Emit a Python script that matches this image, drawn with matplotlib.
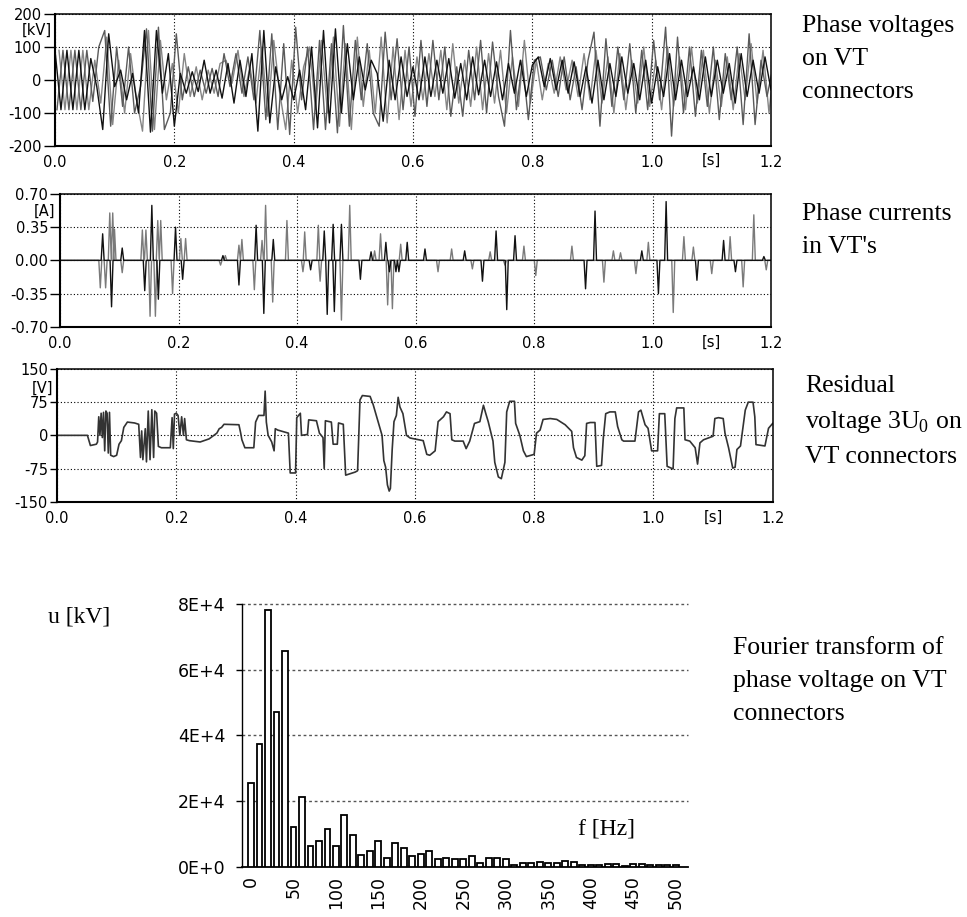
import numpy as np
import matplotlib
matplotlib.use("Agg")
import matplotlib.pyplot as plt

plt.rcParams['font.family'] = 'DejaVu Sans'
plt.rcParams['axes.unicode_minus'] = False
plt.rcParams['mathtext.fontset'] = 'custom'
plt.rcParams['mathtext.rm'] = 'Liberation Serif'

W, H = 967, 917

# ---------------- data ----------------
# phase voltages [kV]: successive extrema, one every 10 ms per phase
volt_step = 0.01
volt_offsets = [0.0, 0.00333, 0.00667]
volt_a = [90, -90, 90, -90, 90, -90, 65, -20, -150, 140,
          -20, 30, -60, 20, -100, 150, -158, 150, -40, 80,
          -140, 20, -40, 25, -35, 60, -40, 30, -55, 50,
          -70, 60, -50, 80, -155, 150, -130, 40, -60, 10,
          -60, 30, -90, 100, -145, 150, -130, 155, -100, 110,
          -60, 70, -30, 60, 20, -125, 60, -60, 70, -50,
          40, -60, 70, -50, 60, -40, 65, -55, 50, -60,
          70, -45, 60, -50, 55, -60, 50, -40, 60, -50,
          45, 70, -20, 65, -30, 60, -40, 55, -50, 40,
          -70, 60, -60, 50, -50, 70, -40, 50, -60, 60,
          -70, 40, -50, 80, -60, 60, -50, 40, -60, 70,
          -50, 60, -40, 50, -70, 80, -50, 60, -40, 70, -30]
volt_b = [-90, 90, -90, 90, -90, 90, -65, 100, 150, -140,
          100, -80, 100, -100, -20, 155, -155, 160, -150, -100,
          140, -60, 40, -50, 30, -40, 35, -50, 80, -20,
          80, -40, 70, -60, 150, -120, 140, -150, 110, -165,
          160, -60, 100, -150, 120, -150, 110, -160, 165, -140,
          120, -60, 110, -100, -140, 145, -60, 125, -90, 100,
          -110, 120, -80, 120, -60, 100, -110, 40, -110, 90,
          -60, 120, -100, 115, -50, -140, 150, -90, 60, -120,
          60, 70, -30, 60, -50, 70, -60, 40, -90, 60,
          145, -140, 125, -80, 100, -60, 110, -100, 90, -90,
          120, -60, 160, -170, 130, -100, 100, -110, 90, -80,
          100, -120, 80, -60, 100, -135, 140, -135, 60, -50, 40]
volt_c = [90, -90, 90, -90, 90, -90, 60, -70, 130, -135,
          60, -100, 80, -60, -155, 150, -150, 120, -60, 50,
          -100, 80, -50, 40, -60, 30, -40, 50, 60, -10,
          90, -50, 40, -70, 100, -110, 120, -40, -150, 60,
          -100, 40, 100, -90, 120, -100, 130, -140, 110, -150,
          130, -80, 90, -100, 130, -130, 100, -120, 90, -80,
          70, -60, 80, -50, 90, -90, 110, -70, 60, -80,
          100, -90, 80, -70, 90, -100, 70, -80, 120, -70,
          60, -60, 50, -40, 70, -30, 60, -50, 80, -60,
          90, -70, 70, -100, 80, -90, 60, -70, 100, -80,
          60, -90, 100, -80, 70, -90, 100, -70, 90, -100,
          60, -80, 70, -90, 80, -60, 110, -70, 90, -100, 80]

# phase currents [A]: current pulses (time, peak), zero in between
cur_black_t = [0.072, 0.087, 0.105, 0.143, 0.155, 0.166, 0.195, 0.207, 0.275, 0.302,
               0.331, 0.344, 0.360, 0.423, 0.446, 0.451, 0.461, 0.463, 0.475, 0.507,
               0.525, 0.550, 0.556, 0.567, 0.572, 0.586, 0.616, 0.683, 0.713, 0.736,
               0.754, 0.768, 0.887, 0.903, 0.982, 1.010, 1.023, 1.075, 1.120, 1.140, 1.188]
cur_black_v = [0.28, -0.49, 0.13, -0.32, 0.58, -0.41, 0.35, -0.20, 0.05, -0.26,
               0.37, -0.56, 0.22, -0.10, 0.31, -0.57, 0.38, -0.54, 0.38, -0.20,
               0.09, 0.19, -0.12, -0.12, -0.12, 0.19, 0.12, 0.10, -0.22, 0.31,
               -0.52, 0.26, -0.30, 0.52, 0.10, -0.35, 0.62, -0.21, 0.21, -0.12, 0.04]
cur_gray_t = [0.068, 0.077, 0.084, 0.089, 0.092, 0.105, 0.139, 0.145, 0.152, 0.161,
              0.165, 0.170, 0.190, 0.204, 0.212, 0.271, 0.279, 0.302, 0.307, 0.328,
              0.341, 0.347, 0.359, 0.383, 0.410, 0.413, 0.436, 0.439, 0.475, 0.489,
              0.531, 0.541, 0.553, 0.561, 0.575, 0.638, 0.661, 0.696, 0.726, 0.751,
              0.783, 0.803, 0.864, 0.918, 0.934, 0.946, 0.972, 0.993, 1.035, 1.053,
              1.069, 1.100, 1.131, 1.153, 1.171, 1.192]
cur_gray_v = [-0.29, -0.29, 0.50, 0.50, 0.33, -0.13, 0.32, 0.32, -0.59, -0.59,
              0.42, 0.42, -0.35, 0.23, 0.23, -0.05, 0.05, 0.16, 0.22, -0.31,
              0.21, 0.58, -0.44, 0.42, -0.12, 0.30, 0.37, -0.22, -0.63, 0.58,
              0.10, 0.28, -0.47, -0.51, 0.17, -0.12, 0.12, -0.09, 0.09, -0.05,
              0.15, -0.16, 0.15, -0.23, 0.10, 0.08, -0.14, 0.19, -0.55, 0.25,
              0.14, -0.14, 0.25, -0.28, 0.48, -0.10]

# residual voltage 3U0 [V]: breakpoints (time, value)
res_pts = [(0.000, 0), (0.051, 0), (0.056, -23), (0.066, -20), (0.068, -15), (0.070, 42),
           (0.072, 0), (0.074, 50), (0.076, -5), (0.078, 52), (0.080, -35), (0.082, 55),
           (0.084, 50), (0.086, -40), (0.088, 52), (0.090, -45), (0.095, -48), (0.100, -45),
           (0.104, -20), (0.108, -12), (0.112, 18), (0.118, 30), (0.130, 28), (0.137, 25),
           (0.140, -50), (0.142, 10), (0.144, -55), (0.148, 15), (0.150, -60), (0.153, 55),
           (0.156, -55), (0.159, 58), (0.162, -50), (0.164, 55), (0.167, 50), (0.170, -25),
           (0.175, -28), (0.190, -28), (0.193, 40), (0.195, -30), (0.197, 48), (0.200, 50),
           (0.203, 45), (0.206, 0), (0.209, 42), (0.212, 0), (0.214, 38), (0.217, -10),
           (0.222, -12), (0.240, -15), (0.255, -8), (0.268, 5), (0.272, 15), (0.276, 18),
           (0.280, 25), (0.305, 24), (0.308, 5), (0.310, -10), (0.315, -28), (0.330, -28),
           (0.333, 30), (0.338, 45), (0.347, 45), (0.349, 100), (0.351, 30), (0.354, 0),
           (0.360, -15), (0.364, -35), (0.366, 15), (0.370, 12), (0.388, 5), (0.391, -85),
           (0.400, -85), (0.402, 40), (0.408, 50), (0.410, 0), (0.420, 2), (0.422, 35),
           (0.435, 33), (0.440, 5), (0.446, -5), (0.448, -75), (0.450, 33), (0.460, 30),
           (0.463, -20), (0.470, -20), (0.472, 28), (0.480, 25), (0.484, -90), (0.500, -83),
           (0.504, -80), (0.508, 80), (0.512, 90), (0.525, 88), (0.530, 70), (0.545, 0),
           (0.548, -57), (0.551, -72), (0.554, -112), (0.557, -126), (0.559, -120), (0.562, -32),
           (0.565, 31), (0.569, 45), (0.572, 86), (0.575, 64), (0.580, 49), (0.586, 0),
           (0.592, -6), (0.614, -12), (0.620, -43), (0.625, -45), (0.634, -35), (0.639, 31),
           (0.648, 42), (0.653, 53), (0.659, 49), (0.662, -10), (0.667, -13), (0.681, -13),
           (0.686, -30), (0.692, -13), (0.700, 27), (0.709, 31), (0.715, 68), (0.719, 49),
           (0.723, 31), (0.731, -13), (0.734, -61), (0.740, -94), (0.745, -98), (0.751, -61),
           (0.754, 53), (0.759, 77), (0.767, 77), (0.769, 27), (0.776, 0), (0.782, -35),
           (0.787, -48), (0.800, -43), (0.804, 5), (0.810, 12), (0.815, 36), (0.827, 38),
           (0.838, 36), (0.852, 24), (0.863, 9), (0.866, -28), (0.871, -50), (0.880, -56),
           (0.885, -46), (0.888, 27), (0.894, 29), (0.902, 29), (0.905, -70), (0.913, -68),
           (0.916, -6), (0.920, 49), (0.927, 53), (0.936, 53), (0.940, 20), (0.947, -10),
           (0.950, -13), (0.969, -13), (0.975, 53), (0.979, 57), (0.986, 24), (0.991, 16),
           (0.997, -35), (1.007, -35), (1.010, 49), (1.019, 49), (1.023, -70), (1.033, -76),
           (1.036, 38), (1.039, 62), (1.051, 62), (1.053, -10), (1.061, -13), (1.070, -28),
           (1.074, -65), (1.078, -17), (1.084, -10), (1.100, -2), (1.103, 38), (1.109, 40),
           (1.117, 38), (1.120, 5), (1.126, -28), (1.133, -74), (1.137, -72), (1.140, -32),
           (1.146, -24), (1.154, 57), (1.159, 75), (1.167, 75), (1.170, 42), (1.172, -21),
           (1.187, -24), (1.193, 16), (1.200, 27)]

# Fourier spectrum of phase voltage
fft_u = [25600, 37500, 78200, 47000, 65700, 12100, 21200, 6400, 7700, 11600,
         6400, 15800, 9700, 3500, 4900, 7700, 2500, 7200, 5600, 3300,
         3800, 4700, 2300, 2800, 2300, 2300, 3300, 1000, 2800, 2800,
         2300, 500, 1000, 1000, 1300, 1000, 1000, 1800, 1300, 400,
         400, 400, 800, 800, 100, 800, 800, 400, 400, 400, 400]
fft_step_hz = 10

time_ticks = [0.0, 0.2, 0.4, 0.6, 0.8, 1.0, 1.2]
time_labels = ['0.0', '0.2', '0.4', '0.6', '0.8', '1.0', '1.2']

# ---------------- figure ----------------
fig = plt.figure(figsize=(W / 100, H / 100), dpi=100)
TICK_FS = 10.5


def px_axes(l, t, r, b):
    return fig.add_axes([l / W, 1 - b / H, (r - l) / W, (b - t) / H])


def fig_text(x, y, s, **kw):
    return fig.text(x / W, 1 - y / H, s, **kw)


def wave_axes(box, lim, ticks, labels, ticklen):
    ax = px_axes(*box)
    ax.set_xlim(0, 1.2)
    ax.set_ylim(*lim)
    ax.set_xticks(time_ticks)
    ax.set_xticklabels(time_labels)
    ax.set_yticks(ticks)
    ax.set_yticklabels(labels)
    ax.tick_params(axis='x', length=0, pad=6.5, labelsize=TICK_FS)
    ax.tick_params(axis='y', length=ticklen, width=1, pad=1.5, labelsize=TICK_FS)
    ax.grid(True, color='black', linestyle=(0, (1, 2)), linewidth=0.8)
    ax.set_axisbelow(True)
    for s in ax.spines.values():
        s.set_linewidth(1.1)
    ax.spines['left'].set_linewidth(1.5)
    ax.spines['bottom'].set_linewidth(1.5)
    return ax


def pulse_trace(times, amps, half=0.0025):
    t, v = [0.0], [0.0]
    for ti, ai in zip(times, amps):
        t += [ti - half, ti, ti + half]
        v += [0.0, ai, 0.0]
    t.append(1.2)
    v.append(0.0)
    return t, v


# phase voltages
ax1 = wave_axes((55, 14, 771, 146), (-200, 200), [-200, -100, 0, 100, 200],
                ['-200', '-100', '0', '100', '200'], 8)
colors = ['#111111', '#5a5a5a', '#858585']
for vals, off, col in zip([volt_c, volt_b, volt_a], volt_offsets[::-1], colors[::-1]):
    tt = off + volt_step * np.arange(len(vals))
    ax1.plot(tt, vals, color=col, lw=1.0)
fig_text(52, 30, '[kV]', ha='right', va='center', fontsize=TICK_FS)
fig_text(711, 160, '[s]', ha='center', va='center', fontsize=TICK_FS)

# phase currents
ax2 = wave_axes((60, 194, 771, 326.7), (-0.7, 0.7), [-0.7, -0.35, 0, 0.35, 0.7],
                ['-0.70', '-0.35', '0.00', '0.35', '0.70'], 7)
tg, vg = pulse_trace(cur_gray_t, cur_gray_v)
tb, vb = pulse_trace(cur_black_t, cur_black_v)
ax2.plot(tg, vg, color='#7a7a7a', lw=1.0)
ax2.plot(tb, vb, color='#111111', lw=1.0)
fig_text(55, 211.5, '[A]', ha='right', va='center', fontsize=TICK_FS)
fig_text(711.5, 342, '[s]', ha='center', va='center', fontsize=TICK_FS)

# residual voltage
ax3 = wave_axes((57, 369, 772.7, 501.7), (-150, 150), [-150, -75, 0, 75, 150],
                ['-150', '-75', '0', '75', '150'], 5)
res_t = [p[0] for p in res_pts]
res_v = [p[1] for p in res_pts]
ax3.plot(res_t, res_v, color='#333333', lw=1.2)
fig_text(53, 388, '[V]', ha='right', va='center', fontsize=TICK_FS)
fig_text(713, 517, '[s]', ha='center', va='center', fontsize=TICK_FS)

# Fourier transform bars
axb = px_axes(241.5, 604, 687.7, 866.7)
pos = np.arange(len(fft_u))
axb.bar(pos, fft_u, width=0.7, color='white', edgecolor='black', linewidth=1.3, zorder=3)
axb.set_xlim(-1.12, 51.4)
axb.set_ylim(0, 80000)
for gy in [20000, 40000, 60000, 80000]:
    axb.axhline(gy, color='#555555', linestyle=(0, (2, 2)), linewidth=1.0, zorder=1, clip_on=False)
axb.set_yticks([0, 20000, 40000, 60000, 80000])
axb.set_yticklabels(['0E+0', '2E+4', '4E+4', '6E+4', '8E+4'])
axb.set_xticks(pos[::5])
axb.set_xticklabels([str(p * fft_step_hz) for p in pos[::5]], rotation=90)
axb.tick_params(axis='y', length=4.5, width=1, pad=7, labelsize=12.5)
axb.tick_params(axis='x', length=0, pad=6.5, labelsize=12.5)
axb.spines['top'].set_visible(False)
axb.spines['right'].set_visible(False)
axb.spines['left'].set_linewidth(1.0)
axb.spines['bottom'].set_linewidth(1.3)

# annotations
serif = 'Liberation Serif'
fig_text(79, 617, 'u [kV]', ha='center', va='center', fontsize=17, family=serif)
fig_text(606, 829, 'f [Hz]', ha='center', va='center', fontsize=17, family=serif)
fig_text(802, 15, 'Phase voltages\non VT\nconnectors', ha='left', va='top',
         fontsize=18.5, family=serif, linespacing=1.65)
fig_text(802, 203, "Phase currents\nin VT's", ha='left', va='top',
         fontsize=18.5, family=serif, linespacing=1.65)
fig_text(805, 375, 'Residual\nvoltage 3U$_0$ on\nVT connectors', ha='left', va='top',
         fontsize=18.5, family=serif, linespacing=1.65)
fig_text(733, 637, 'Fourier transform of\nphase voltage on VT\nconnectors', ha='left', va='top',
         fontsize=18.5, family=serif, linespacing=1.65)

fig.savefig('out.png', dpi=100)
